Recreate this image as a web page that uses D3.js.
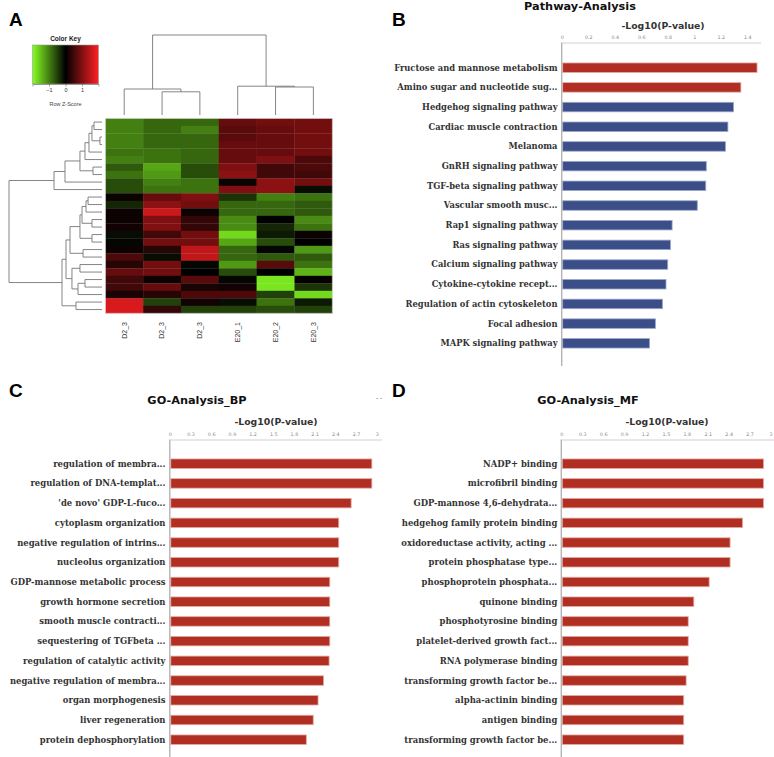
<!DOCTYPE html>
<html><head><meta charset="utf-8">
<script src="https://cdn.jsdelivr.net/npm/d3@7"></script>
<style>body{margin:0;background:#fff}svg{display:block}</style>
</head><body><svg id="c" width="774" height="757"></svg>
<script>
// ---------- DATA ----------
const heatCols = ["D2_3","D2_3","D2_3","E20_1","E20_2","E20_3"];
const heatValues = [
  [-1.0,-0.8,-0.8, 0.8, 0.9, 0.9],
  [-1.0,-0.8,-1.0, 0.7, 0.8, 0.9],
  [-1.0,-0.8,-0.8, 0.7, 0.8, 0.9],
  [-1.0,-0.8,-0.8, 0.8, 0.8, 0.9],
  [-0.9,-0.9,-0.8, 0.8, 0.8, 0.9],
  [-1.0,-0.9,-0.8, 0.8, 1.0, 0.6],
  [-0.7,-1.3,-0.6, 1.0, 0.5, 0.6],
  [-0.9,-1.2,-0.6, 1.1, 0.5, 0.5],
  [-0.6,-1.0,-0.9, 0.1, 1.1, 0.9],
  [-0.6,-0.9,-0.9, 1.0, 1.1,-0.1],
  [ 0.1, 0.8, 1.0,-0.4,-1.0,-0.9],
  [-0.3, 1.1, 0.9,-0.8,-0.8,-0.7],
  [ 0.1, 1.6, 0.1,-0.8,-0.8,-0.7],
  [ 0.1, 1.0, 0.4,-1.1, 0.0,-1.1],
  [ 0.15,1.0, 0.4,-1.1,-0.3,-0.9],
  [-0.1, 0.5, 0.9,-1.7,-0.2, 0.1],
  [-0.05,0.9, 0.9,-1.3,-0.6, 0.0],
  [ 0.1, 0.3, 1.5,-0.8,-0.05,-1.2],
  [ 0.6,-0.1, 1.5,-0.8,-0.7,-0.7],
  [ 0.3, 0.9,-0.05,-1.2,0.7,-0.9],
  [ 0.8, 0.9, 0.0,-0.6, 0.0,-1.4],
  [ 0.5, 0.1, 0.7,-0.05,-1.8,0.05],
  [ 0.5, 0.8, 0.2, 0.15,-1.8,-0.4],
  [ 0.2, 0.3, 0.6, 0.6,-0.5,-1.7],
  [ 1.7,-0.5, 0.15,-0.1,-0.9,-0.2],
  [ 1.7, 0.4,-0.5,-0.5,-0.6,-0.5]
];
// hclust-style merges: negative = leaf (1-based), positive = earlier merge (1-based); third = height
const rowMerge = [
  [-1,-2,0.86],[-3,-4,0.22],[1,2,1.08],[3,-5,1.4],[4,-6,1.83],[-7,-8,0.97],[5,6,2.37],
  [7,-9,3.98],[8,-10,5.16],
  [-11,-12,1.5],[10,-13,1.72],[-14,-15,1.08],[11,12,2.15],[-16,-17,1.08],[13,14,2.37],
  [-18,-19,2.04],[15,16,3.44],[-20,-21,2.37],[-22,-23,1.83],[19,-24,2.58],[18,20,3.23],
  [17,21,3.87],[-25,-26,2.8],[22,23,4.3],[9,24,10]
];
const colMerge = [[-2,-3,2.9],[-1,1,3.25],[-5,-6,3.5],[-4,3,3.6],[2,4,10]];
const keyTicks = [-1,0,1];
const keyStops = [-2,-1.5,-1,-0.5,0,0.5,1,1.5,2];

const pathwayNames = ["Fructose and mannose metabolism","Amino sugar and nucleotide sug...","Hedgehog signaling pathway",
  "Cardiac muscle contraction","Melanoma","GnRH signaling pathway","TGF-beta signaling pathway",
  "Vascular smooth musc...","Rap1 signaling pathway","Ras signaling pathway","Calcium signaling pathway",
  "Cytokine-cytokine recept...","Regulation of actin cytoskeleton","Focal adhesion","MAPK signaling pathway"];
const pathwayValues = [1.474,1.352,1.297,1.254,1.236,1.091,1.087,1.023,0.833,0.821,0.800,0.787,0.760,0.707,0.663];
const pathwayGroup = ["metab","metab","sig","sig","sig","sig","sig","sig","sig","sig","sig","sig","sig","sig","sig"];
const pathwayTicks = [0,0.2,0.4,0.6,0.8,1,1.2,1.4];

const bpNames = ["regulation of membra...","regulation of DNA-templat...","'de novo' GDP-L-fuco...",
  "cytoplasm organization","negative regulation of intrins...","nucleolus organization",
  "GDP-mannose metabolic process","growth hormone secretion","smooth muscle contracti...",
  "sequestering of TGFbeta ...","regulation of catalytic activity","negative regulation of membra...",
  "organ morphogenesis","liver regeneration","protein dephosphorylation"];
const bpValues = [2.93,2.93,2.63,2.45,2.45,2.45,2.32,2.32,2.32,2.32,2.31,2.23,2.15,2.08,1.98];

const mfNames = ["NADP+ binding","microfibril binding","GDP-mannose 4,6-dehydrata...",
  "hedgehog family protein binding","oxidoreductase activity, acting ...","protein phosphatase type...",
  "phosphoprotein phosphata...","quinone binding","phosphotyrosine binding","platelet-derived growth fact...",
  "RNA polymerase binding","transforming growth factor be...","alpha-actinin binding","antigen binding",
  "transforming growth factor be..."];
const mfValues = [2.90,2.90,2.90,2.60,2.42,2.42,2.12,1.90,1.82,1.82,1.82,1.79,1.755,1.755,1.755];
const goTicks = [0,0.3,0.6,0.9,1.2,1.5,1.8,2.1,2.4,2.7,3];

// ---------- DRAW ----------
const svg = d3.select("#c");
const SANS = "'DejaVu Sans', Verdana, sans-serif";
const ARIAL = "'Liberation Sans', Arial, sans-serif";
const SERIF = "'DejaVu Serif', serif";

function panelLetter(t, x, y){
  svg.append("text").attr("x",x).attr("y",y).text(t)
    .attr("font-family",ARIAL).attr("font-weight","bold").attr("font-size",19).attr("fill","#000");
}

// ===== Panel A: heatmap =====
const color = d3.scaleLinear().domain([-2,0,2]).range(["#86ff22","#000000","#ff1e22"]);
const rowBand = d3.scaleBand().domain(d3.range(heatValues.length)).range([118.3,313.3]);
const colBand = d3.scaleBand().domain(d3.range(heatCols.length)).range([105.3,332.3]);

const gA = svg.append("g");
heatValues.forEach((row,i)=>{
  row.forEach((v,j)=>{
    gA.append("rect").attr("x",colBand(j)).attr("y",rowBand(i))
      .attr("width",colBand.bandwidth()+0.3).attr("height",rowBand.bandwidth()+0.3)
      .attr("fill",color(v));
  });
});
gA.append("rect").attr("x",colBand.range()[0]).attr("y",rowBand.range()[0])
  .attr("width",colBand.range()[1]-colBand.range()[0]).attr("height",rowBand.range()[1]-rowBand.range()[0])
  .attr("fill","none").attr("stroke","#ddd").attr("stroke-width",0.8);

// column labels
heatCols.forEach((c,j)=>{
  const cx = colBand(j)+colBand.bandwidth()/2;
  gA.append("text").attr("x",cx).attr("y",322).attr("transform",`rotate(-90,${cx},322)`)
    .attr("text-anchor","end").attr("dy","0.35em").text(c)
    .attr("font-family",ARIAL).attr("font-size",7).attr("fill","#333");
});

function dendro(merges, leafPos, hScale, horizontal){
  const nodes = [];
  const pos = k => k<0 ? {p: leafPos(-k-1), h:0} : nodes[k-1];
  const lines = [];
  merges.forEach(m=>{
    const a = pos(m[0]), b = pos(m[1]), h = m[2];
    nodes.push({p:(a.p+b.p)/2, h:h});
    [a,b].forEach(c=>{
      if(horizontal) lines.push([hScale(c.h),c.p,hScale(h),c.p]);
      else lines.push([c.p,hScale(c.h),c.p,hScale(h)]);
    });
    if(horizontal) lines.push([hScale(h),a.p,hScale(h),b.p]);
    else lines.push([a.p,hScale(h),b.p,hScale(h)]);
  });
  gA.append("g").selectAll("line").data(lines).join("line")
    .attr("x1",d=>d[0]).attr("y1",d=>d[1]).attr("x2",d=>d[2]).attr("y2",d=>d[3])
    .attr("stroke","#777").attr("stroke-width",0.9);
}
dendro(rowMerge, i=>rowBand(i)+rowBand.bandwidth()/2, d3.scaleLinear().domain([0,10]).range([102,9]), true);
dendro(colMerge, j=>colBand(j)+colBand.bandwidth()/2, d3.scaleLinear().domain([0,10]).range([115,35]), false);

// color key
const keyX = d3.scaleLinear().domain([-2,2]).range([32.5,98.5]);
const defs = svg.append("defs");
const grad = defs.append("linearGradient").attr("id","keygrad").attr("x1","0%").attr("x2","100%");
keyStops.forEach(v=>{
  grad.append("stop").attr("offset",((v+2)/4*100)+"%").attr("stop-color",color(v));
});
const kg = gA.append("g");
kg.append("rect").attr("x",keyX(-2)).attr("y",45).attr("width",keyX(2)-keyX(-2)).attr("height",39)
  .attr("fill","url(#keygrad)").attr("stroke","#999").attr("stroke-width",0.6);
kg.append("g").attr("transform","translate(0,84)")
  .call(d3.axisBottom(keyX).tickValues(keyTicks).tickSize(2.5).tickPadding(2).tickFormat(d=>d===-1?"\u22121":String(d)))
  .call(g=>{g.select(".domain").attr("stroke","#666").attr("stroke-width",0.6);
    g.selectAll(".tick line").attr("stroke","#666").attr("stroke-width",0.6);
    g.selectAll("text").attr("font-size",5.5).attr("font-family",ARIAL).attr("fill","#333");});
kg.append("text").attr("x",65.5).attr("y",41).attr("text-anchor","middle").text("Color Key")
  .attr("font-family",ARIAL).attr("font-weight","bold").attr("font-size",6.5).attr("fill","#222");
kg.append("text").attr("x",65.5).attr("y",106).attr("text-anchor","middle").text("Row Z-Score")
  .attr("font-family",ARIAL).attr("font-size",5.5).attr("fill","#444");

panelLetter("A",9,26);

// ===== Bar panels =====
function barPanel(o){
  const g = svg.append("g");
  const x = d3.scaleLinear().domain([0,o.dmax]).range([o.x0,o.x1]);
  const y = d3.scalePoint().domain(d3.range(o.names.length)).range([o.yFirst,o.yLast]);
  const bh = 9.5;
  g.append("text").attr("x",o.titleX).attr("y",o.titleY).attr("text-anchor","middle").text(o.title)
    .attr("font-family",SANS).attr("font-weight","bold").attr("font-size",11.3).attr("fill","#111");
  g.append("text").attr("x",o.axTitleX).attr("y",o.axTitleY).attr("text-anchor","middle").text("-Log10(P-value)")
    .attr("font-family",SANS).attr("font-weight","bold").attr("font-size",9.3).attr("fill","#333");
  g.append("g").attr("transform",`translate(0,${o.axisY})`)
    .call(d3.axisTop(x).tickValues(o.ticks).tickSize(0).tickPadding(3.5).tickFormat(d=>String(+d.toFixed(1))))
    .call(a=>{a.select(".domain").attr("stroke","#d0d0d0").attr("stroke-width",1);
      a.selectAll("text").attr("font-size",4.8).attr("font-family",SANS).attr("fill","#888");});
  g.append("line").attr("x1",o.x0).attr("x2",o.x0).attr("y1",o.axisY).attr("y2",o.yEnd)
    .attr("stroke","#b4b4b4").attr("stroke-width",1.4);
  o.values.forEach((v,i)=>{
    const red = o.groups ? o.groups[i]==="metab" : true;
    g.append("rect").attr("x",x(0)+1).attr("y",y(i)-bh/2).attr("width",x(v)-x(0)-1).attr("height",bh)
      .attr("fill",red?"#b12f22":"#3c4e88").attr("stroke",red?"#e6aaa2":"#9aa8cc").attr("stroke-width",0.8);
    g.append("text").attr("x",o.labelX).attr("y",y(i)).attr("dy","0.35em").attr("text-anchor","end")
      .text(o.names[i]).attr("font-family",SERIF).attr("font-weight","bold").attr("font-size",o.fs)
      .attr("fill","#333");
  });
  return g;
}

barPanel({names:pathwayNames, values:pathwayValues, groups:pathwayGroup, dmax:1.5, x0:561.7, x1:760.5,
  yFirst:67.7, yLast:343.3, yEnd:366, axisY:42.5, ticks:pathwayTicks, labelX:557.5, fs:8.35,
  title:"Pathway-Analysis", titleX:580, titleY:10, axTitleX:663, axTitleY:29});
panelLetter("B",392,26);

barPanel({names:bpNames, values:bpValues, dmax:3.07, x0:169.8, x1:381.5,
  yFirst:463.7, yLast:739.7, yEnd:757, axisY:439.5, ticks:goTicks, labelX:165.5, fs:8.45,
  title:"GO-Analysis_BP", titleX:197, titleY:404, axTitleX:276, axTitleY:425});
panelLetter("C",9,397);
svg.append("text").attr("x",379).attr("y",400).attr("text-anchor","middle").text("-   -")
  .attr("font-family",SANS).attr("font-size",6).attr("fill","#444");

barPanel({names:mfNames, values:mfValues, dmax:3.05, x0:561.3, x1:774, 
  yFirst:463.7, yLast:739.7, yEnd:757, axisY:439.5, ticks:goTicks, labelX:557.3, fs:8.45,
  title:"GO-Analysis_MF", titleX:588, titleY:404, axTitleX:667, axTitleY:425});
panelLetter("D",392,397);
</script></body></html>
